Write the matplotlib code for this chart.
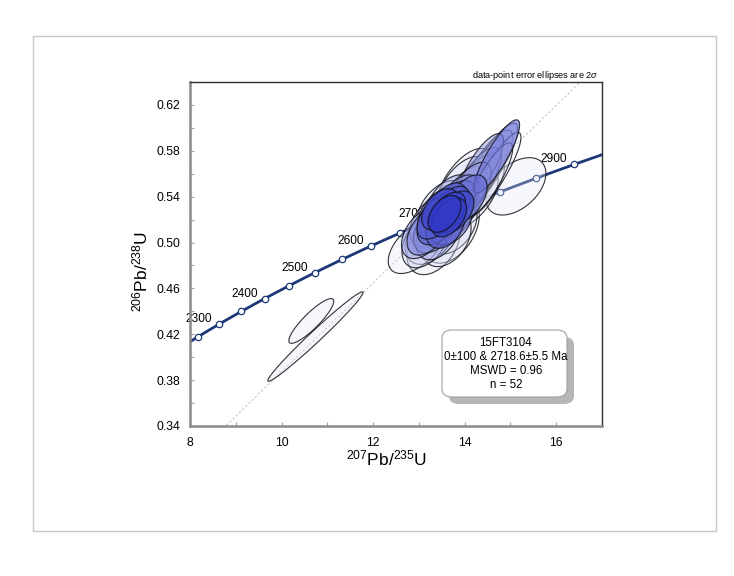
import numpy as np
import matplotlib
matplotlib.use("Agg")
import matplotlib.pyplot as plt
from matplotlib.patches import Polygon, FancyBboxPatch, Rectangle
from matplotlib.colors import to_rgb

plt.rcParams['font.family'] = ['Liberation Sans', 'DejaVu Sans']
plt.rcParams['mathtext.fontset'] = 'custom'
plt.rcParams['mathtext.rm'] = 'Liberation Sans'
plt.rcParams['mathtext.it'] = 'Liberation Sans:italic'

# ---- data: 207Pb/235U, 2s, 206Pb/238U, 2s, rho ----
pb207_u235 = [10.65, 10.74, 15.12, 12.95, 14.65, 14.55,
              13.55, 13.62, 13.48, 13.70, 13.40, 13.78, 13.52, 13.66, 13.44, 13.85,
              13.74, 13.35, 13.58, 13.60, 13.46, 13.80, 13.38, 13.70, 13.90, 13.64,
              13.50, 13.30, 13.72, 13.56,
              14.00, 14.10, 13.95, 14.20, 14.05, 14.30, 14.15, 14.40, 13.98, 14.25,
              14.50, 14.35, 14.60, 14.70,
              13.20, 13.15, 13.25, 13.10, 13.32, 13.42, 13.60, 13.70]
err_x = [0.49, 1.04, 0.655, 0.62, 0.58, 0.50,
         0.45, 0.40, 0.48, 0.42, 0.44, 0.46, 0.52, 0.38, 0.46, 0.48,
         0.50, 0.47, 0.42, 0.44, 0.40, 0.40, 0.42, 0.46, 0.50, 0.50,
         0.54, 0.50, 0.55, 0.36,
         0.50, 0.48, 0.56, 0.52, 0.44, 0.50, 0.58, 0.54, 0.60, 0.62,
         0.55, 0.50, 0.56, 0.50,
         0.46, 0.52, 0.55, 0.48, 0.58, 0.48, 0.54, 0.62]
pb206_u238 = [0.4316, 0.418, 0.549, 0.497, 0.560, 0.555,
              0.5246, 0.5260, 0.5200, 0.5300, 0.5170, 0.5330, 0.5180, 0.5220, 0.5260, 0.5370,
              0.5250, 0.5120, 0.5140, 0.5320, 0.5290, 0.5270, 0.5220, 0.5180, 0.5330, 0.5360,
              0.5300, 0.5180, 0.5150, 0.5250,
              0.5420, 0.5460, 0.5480, 0.5500, 0.5380, 0.5560, 0.5400, 0.5600, 0.5520, 0.5480,
              0.5660, 0.5650, 0.5700, 0.5750,
              0.5100, 0.5020, 0.5060, 0.5080, 0.4990, 0.5070, 0.5040, 0.5120]
err_y = [0.0195, 0.039, 0.025, 0.024, 0.036, 0.032,
         0.020, 0.018, 0.021, 0.019, 0.019, 0.021, 0.023, 0.017, 0.021, 0.022,
         0.022, 0.021, 0.019, 0.020, 0.018, 0.018, 0.019, 0.020, 0.023, 0.023,
         0.024, 0.022, 0.025, 0.016,
         0.024, 0.024, 0.027, 0.026, 0.021, 0.027, 0.027, 0.030, 0.030, 0.030,
         0.032, 0.030, 0.034, 0.032,
         0.021, 0.024, 0.025, 0.022, 0.027, 0.022, 0.025, 0.030]
rho = [0.88, 0.985, 0.45, 0.55, 0.88, 0.85,
       0.45, 0.50, 0.42, 0.48, 0.40, 0.50, 0.38, 0.45, 0.44, 0.52,
       0.40, 0.42, 0.36, 0.50, 0.46, 0.44, 0.48, 0.38, 0.46, 0.52,
       0.45, 0.40, 0.36, 0.45,
       0.55, 0.60, 0.55, 0.65, 0.50, 0.70, 0.55, 0.75, 0.62, 0.62,
       0.80, 0.78, 0.84, 0.86,
       0.45, 0.42, 0.40, 0.44, 0.38, 0.40, 0.35, 0.40]

marker_ages = [2250, 2300, 2350, 2400, 2450, 2500, 2550, 2600, 2650, 2700,
               2750, 2800, 2850, 2900]
label_ages = [2300, 2400, 2500, 2600, 2700, 2800, 2900]
upper_intercept = 2718.6
box_lines = ["15FT3104", "0±100 & 2718.6±5.5 Ma", "MSWD = 0.96", "n = 52"]

L235 = 9.8485e-10
L238 = 1.55125e-10

def conc(t_ma):
    t = np.asarray(t_ma) * 1e6
    return np.exp(L235 * t) - 1, np.exp(L238 * t) - 1

W, H = 734, 576
fig = plt.figure(figsize=(W / 100, H / 100), dpi=100)
fig.patches.append(Rectangle((33 / W, 1 - 531 / H), (716 - 33) / W, (531 - 36) / H,
                             transform=fig.transFigure, fill=False,
                             edgecolor='#c8c8c8', linewidth=1.0))

ax = fig.add_axes([190 / W, 1 - 426 / H, (602 - 190) / W, (426 - 82) / H])
ax.set_xlim(8, 17)
ax.set_ylim(0.34, 0.64)

# reference line through origin and upper intercept
ux, uy = conc(upper_intercept)
xs = np.array([0.0, 17.5])
ax.plot(xs, uy / ux * xs, color='#c4c4c4', lw=0.8, ls=(0, (2, 2)), zorder=1)

# concordia
tt = np.linspace(2100, 3050, 400)
cx, cy = conc(tt)
ax.plot(cx, cy, color='#1c3877', lw=2.0, zorder=2)
for a in label_ages:
    px, py = conc(a)
    ax.annotate(str(a), (px, py), xytext=(-7, 5), textcoords='offset pixels',
                ha='right', va='center', fontsize=8.6, zorder=2)
mx, my = conc(marker_ages)
ax.plot(mx, my, ls='none', marker='o', ms=4.6, mfc='white', mec='#1c3877',
        mew=0.9, zorder=2.5)

# ellipses, largest first, graded colour
light = np.array(to_rgb('#e4e7f8'))
dark = np.array(to_rgb('#2c34c4'))
area = [ex * ey * np.sqrt(1 - r * r) for ex, ey, r in zip(err_x, err_y, rho)]
order = np.argsort(area)[::-1]
n = len(order)
th = np.linspace(0, 2 * np.pi, 200)
for k, i in enumerate(order):
    f = (k / (n - 1)) ** 1.4
    if i < 6:
        f = 0.0
    col = light * (1 - f) + dark * f
    al = 0.3 + 0.6 * f
    ex, ey, r = err_x[i], err_y[i], rho[i]
    px = pb207_u235[i] + ex * np.cos(th)
    py = pb206_u238[i] + ey * (r * np.cos(th) + np.sqrt(1 - r * r) * np.sin(th))
    ax.add_patch(Polygon(np.column_stack([px, py]), closed=True,
                         facecolor=col, alpha=al, edgecolor='none', zorder=3))
    ax.add_patch(Polygon(np.column_stack([px, py]), closed=True, fill=False,
                         edgecolor='#101018', lw=0.8, alpha=0.85, zorder=3))

# axes styling
ax.set_xticks(np.arange(8, 17.1, 1))
ax.set_xticklabels([str(v) if v % 2 == 0 else '' for v in range(8, 18)])
yt = np.round(np.arange(0.34, 0.641, 0.02), 2)
ax.set_yticks(yt)
ax.set_yticklabels(['%.2f' % v if round((v - 0.34) / 0.02) % 2 == 0 else '' for v in yt])
ax.tick_params(direction='in', length=3, width=0.8, color='#a0a0a0',
               labelsize=8.8, labelcolor='black')
ax.tick_params(axis='x', pad=8)
ax.tick_params(axis='y', pad=7)
for s in ['left', 'bottom']:
    ax.spines[s].set_color('#8a8a8a')
    ax.spines[s].set_linewidth(1.8)
for s in ['top', 'right']:
    ax.spines[s].set_color('#303030')
    ax.spines[s].set_linewidth(1.0)

ax.set_xlabel(r'$^{207}$Pb/$^{235}$U', fontsize=12.5, va='center')
ax.xaxis.set_label_coords(0.478, -0.093)
ax.set_ylabel(r'$^{206}$Pb/$^{238}$U', fontsize=12.5, va='center')
ax.yaxis.set_label_coords(-0.121, 0.45)

fig.text(598 / W, 1 - 75 / H, r'data-point error ellipses are 2$\mathit{\sigma}$',
         ha='right', va='center', fontsize=6.6)

# text box with shadow
bx0, by0, bx1, by1 = 442, 330, 567, 397
sh = 7
fig.patches.append(FancyBboxPatch(((bx0 + sh) / W, 1 - (by1 + sh) / H),
                                  (bx1 - bx0) / W, (by1 - by0) / H,
                                  boxstyle='round,pad=0,rounding_size=0.014',
                                  transform=fig.transFigure, facecolor='#b6b6b6',
                                  edgecolor='none', zorder=5))
fig.patches.append(FancyBboxPatch((bx0 / W, 1 - by1 / H),
                                  (bx1 - bx0) / W, (by1 - by0) / H,
                                  boxstyle='round,pad=0,rounding_size=0.014',
                                  transform=fig.transFigure, facecolor='white',
                                  edgecolor='#a0a0a0', lw=0.8, zorder=6))
for j, line in enumerate(box_lines):
    fig.text(506 / W, 1 - (343 + 14 * j) / H, line, ha='center', va='center',
             fontsize=8.3, zorder=7)

fig.savefig('out.png', dpi=100)
